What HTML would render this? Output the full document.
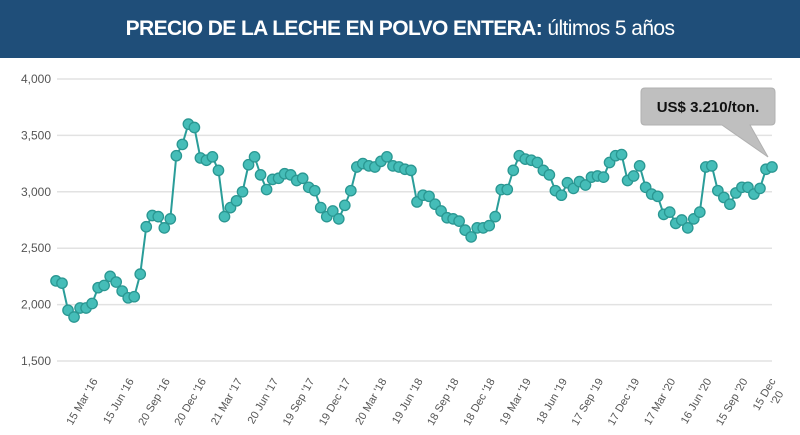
<!DOCTYPE html>
<html><head><meta charset="utf-8">
<style>
html,body{margin:0;padding:0;background:#fff;}
#wrap{position:relative;width:800px;height:435px;overflow:hidden;font-family:"Liberation Sans",sans-serif;}
#hdr{position:absolute;left:0;top:0;width:800px;height:58px;background:#1f4e79;color:#fff;text-align:center;line-height:58px;font-size:21px;letter-spacing:-0.6px;}
</style></head><body>
<div id="wrap">
<div id="hdr"><b>PRECIO DE LA LECHE EN POLVO ENTERA:</b> últimos 5 años</div>
<svg id="chart" width="800" height="435" style="position:absolute;left:0;top:0"></svg>
</div>
<script>
const values = [2210,2190,1950,1890,1970,1970,2010,2150,2170,2250,2200,2120,2060,2070,2270,2690,2790,2780,2680,2760,3320,3420,3600,3570,3300,3280,3310,3190,2780,2860,2920,3000,3240,3310,3150,3020,3110,3120,3160,3150,3100,3120,3040,3010,2860,2780,2830,2760,2880,3010,3220,3250,3230,3220,3270,3310,3230,3220,
3200,3190,2910,2970,2960,2890,2830,2770,2760,2740,2660,2600,2680,2680,2700,2780,3020,3020,3190,3320,3290,3280,3260,3190,3150,3010,2970,3080,3030,3090,3060,3130,3140,3130,3260,3320,3330,3100,3140,3230,3040,2980,2960,2800,2820,2720,2750,2680,2760,2820,3220,3230,3010,2950,2890,2990,3040,3040,2980,3030,3200,3220];
const yTicks = [1500,2000,2500,3000,3500,4000];
const yTickLabels = ["1,500","2,000","2,500","3,000","3,500","4,000"];
const xTickIdx = [7,13,19,25,31,37,43,49,55,61,67,73,79,85,91,97,103,109,115,120];
const xTickLabels = ["15 Mar '16","15 Jun '16","20 Sep '16","20 Dec '16","21 Mar '17","20 Jun '17","19 Sep '17","19 Dec '17","20 Mar '18","19 Jun '18","18 Sep '18","18 Dec '18","19 Mar '19","18 Jun '19","17 Sep '19","17 Dec '19","17 Mar '20","16 Jun '20","15 Sep '20","15 Dec|'20"];

const NS="http://www.w3.org/2000/svg";
const svg=document.getElementById('chart');
const X0=56,X1=772,Y0=361,Y1=79;
const xs=i=>X0+i*(X1-X0)/(values.length-1);
const ys=v=>Y0-(v-1500)*(Y0-Y1)/2500;
function mk(t,a){const e=document.createElementNS(NS,t);for(const k in a)e.setAttribute(k,a[k]);svg.appendChild(e);return e;}

yTicks.forEach((v,i)=>{
  const g=mk('line',{x1:57,x2:772,y1:ys(v),y2:ys(v),stroke:'#e2e2e2','stroke-width':1.5});
  
  
  const t=mk('text',{x:51,y:ys(v)+4,'text-anchor':'end','font-size':12,fill:'#555'});
  t.textContent=yTickLabels[i];
  
  
});

xTickIdx.forEach((idx,i)=>{
  const x=xs(Math.min(idx,values.length-1))+(idx>=values.length-1?4:0);
  const parts=xTickLabels[i].split('|');
  const t=mk('text',{transform:`translate(${x},381) rotate(-60)`,'text-anchor':'end','font-size':11,fill:'#555'});
  
  
  parts.forEach((p,j)=>{const s=document.createElementNS(NS,'tspan');s.setAttribute('x',j*-7);s.setAttribute('y',j*13);s.textContent=p;t.appendChild(s);});
});

const pts=values.map((v,i)=>xs(i)+','+ys(v)).join(' ');
const pl=mk('polyline',{points:pts,fill:'none',stroke:'#2a9d99','stroke-width':2});


values.forEach((v,i)=>{
  const c=mk('circle',{cx:xs(i),cy:ys(v),r:5.2,fill:'#45bdb8',stroke:'#2a9792','stroke-width':1.3});
  
  
});

const cb=mk('path',{d:'M645,88 H771 Q775,88 775,92 V121 Q775,125 771,125 H750 L768,157 L722,125 H645 Q641,125 641,121 V92 Q641,88 645,88 Z',fill:'#bfbfbf',stroke:'#b0b0b0','stroke-width':1});


const ct=mk('text',{x:708,y:112,'text-anchor':'middle','font-size':15,'font-weight':'bold',fill:'#111'});
ct.textContent='US$ 3.210/ton.';


</script>
</body></html>
